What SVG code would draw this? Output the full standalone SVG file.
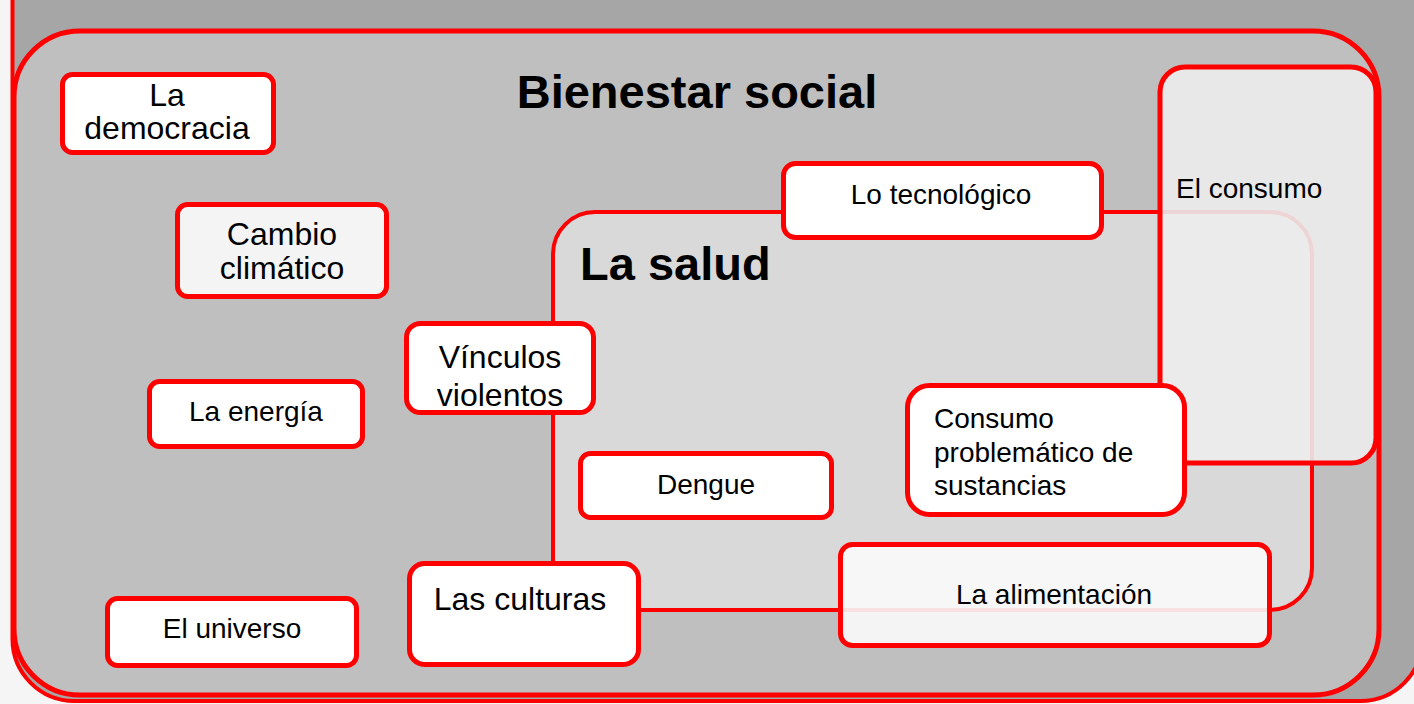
<svg xmlns="http://www.w3.org/2000/svg" width="1414" height="704" viewBox="0 0 1414 704">
<style>
.t{font-family:"Liberation Sans",Arial,sans-serif;fill:#000}
.n{fill:#ffffff;stroke:#ff0000;stroke-width:5}
.s32{font-size:32px}
.s28{font-size:28px}
.b{font-weight:bold;font-size:47px}
.c{text-anchor:middle}
</style>
<rect x="0" y="0" width="1414" height="704" fill="#f5f5f5"/>
<g id="outer">
<rect x="12.5" y="-70" width="1410" height="771" rx="62" fill="#a6a6a6" stroke="#ff0000" stroke-width="4"/>
</g>
<g id="bienestar">
<rect x="14" y="31" width="1365" height="664" rx="66" fill="#bfbfbf" stroke="#ff0000" stroke-width="5"/>
<text class="t b c" x="697" y="108">Bienestar social</text>
</g>
<g id="salud">
<rect x="553" y="212" width="759" height="398" rx="42" fill="#d9d9d9" stroke="#ff0000" stroke-width="4"/>
<text class="t b" x="580" y="280">La salud</text>
</g>
<g id="consumo">
<rect x="1160" y="67" width="216" height="396" rx="25" fill="#ececec" fill-opacity="0.9" stroke="#ff0000" stroke-width="5"/>
<text class="t s28" x="1176" y="198">El consumo</text>
</g>
<g id="connectors"></g>
<g id="democracia">
<rect class="n" x="62.5" y="74.5" width="211" height="78" rx="10"/>
<text class="t s32 c" x="167" y="106">La</text>
<text class="t s32 c" x="167" y="139">democracia</text>
</g>
<g id="cambio">
<rect class="n" x="177.5" y="204.5" width="209" height="92" rx="10" style="fill:#f4f4f4"/>
<text class="t s32 c" x="282" y="245">Cambio</text>
<text class="t s32 c" x="282" y="279">climático</text>
</g>
<g id="energia">
<rect class="n" x="149.5" y="381.5" width="213" height="65" rx="10"/>
<text class="t s28 c" x="256" y="421">La energía</text>
</g>
<g id="vinculos">
<rect class="n" x="406.5" y="323.5" width="187" height="89" rx="14"/>
<text class="t s32 c" x="500" y="368">Vínculos</text>
<text class="t s32 c" x="500" y="406">violentos</text>
</g>
<g id="universo">
<rect class="n" x="107.5" y="598.5" width="249" height="67" rx="10"/>
<text class="t s28 c" x="232" y="638">El universo</text>
</g>
<g id="culturas">
<rect class="n" x="409.5" y="563.5" width="229" height="101" rx="15"/>
<text class="t s32 c" x="520" y="610">Las culturas</text>
</g>
<g id="dengue">
<rect class="n" x="580.5" y="453.5" width="251" height="64" rx="10"/>
<text class="t s28 c" x="706" y="494">Dengue</text>
</g>
<g id="tecnologico">
<rect class="n" x="783.5" y="163.5" width="318" height="74" rx="12"/>
<text class="t s28 c" x="941" y="204">Lo tecnológico</text>
</g>
<g id="problematico">
<rect class="n" x="907.5" y="385.5" width="277" height="129" rx="22"/>
<text class="t s28" x="934" y="428">Consumo</text>
<text class="t s28" x="934" y="462">problemático de</text>
<text class="t s28" x="934" y="495">sustancias</text>
</g>
<g id="alimentacion">
<rect class="n" x="840.5" y="544.5" width="429" height="101" rx="12" style="fill:#fafafa;fill-opacity:0.9"/>
<text class="t s28 c" x="1054" y="604">La alimentación</text>
</g>
</svg>
